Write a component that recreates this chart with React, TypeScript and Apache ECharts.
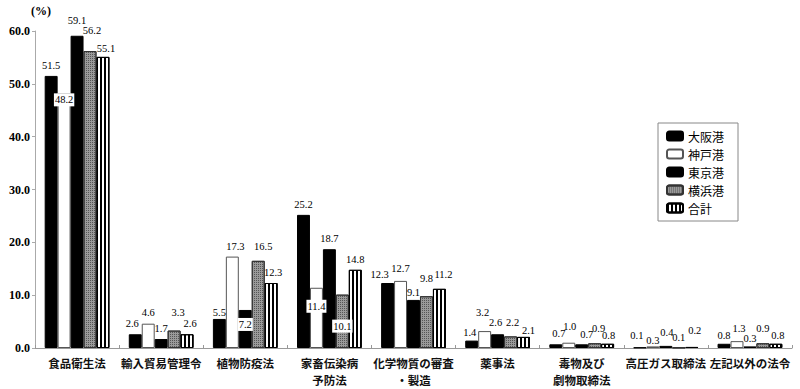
import React, { useEffect, useRef } from "react";
import * as echarts from "echarts";

const categories = [
  "食品衛生法",
  "輸入貿易管理令",
  "植物防疫法",
  "家畜伝染病\n予防法",
  "化学物質の審査\n・製造",
  "薬事法",
  "毒物及び\n劇物取締法",
  "高圧ガス取締法",
  "左記以外の法令",
];
const seriesNames = ["大阪港", "神戸港", "東京港", "横浜港", "合計"];
const osaka = [51.5, 2.6, 5.5, 25.2, 12.3, 1.4, 0.7, 0.1, 0.8];
const kobe = [48.2, 4.6, 17.3, 11.4, 12.7, 3.2, 1.0, 0.3, 1.3];
const tokyo = [59.1, 1.7, 7.2, 18.7, 9.1, 2.6, 0.7, 0.4, 0.3];
const yokohama = [56.2, 3.3, 16.5, 10.1, 9.8, 2.2, 0.9, 0.1, 0.9];
const total = [55.1, 2.6, 12.3, 14.8, 11.2, 2.1, 0.8, 0.2, 0.8];
const yTicks = [0, 10, 20, 30, 40, 50, 60];

// label placement tweaks (pixels) to mimic the hand-placed labels
const labelDy = [
  [0, 0, 4, 0, 2, 2, 0, -1, 2],
  [18, -1, 0, 30, -2, -8, -6, 5, -2],
  [-5, 0, 26, 0, 3, -1, 1, -3, 3],
  [-10, -8, -4, 43, -7, -3, -4, 1, -4],
  [2, 0, 0, 0, -4, 4, 2, -6, 2],
];
const labelDx = [
  [0, -3, 0, 0, -8, -2, 3, -3, 0],
  [0, 0, 3, 0, 0, -2, 1, 0, 2],
  [0, 0, 0, 0, 0, -2, 5, 1, 0],
  [2, 4, 5, 0, 0, 2, 4, 0, 0],
  [3, 3, 2, 0, 4, 5, 1, 3, 2],
];
const boxed: [number, number][] = [
  [1, 0],
  [2, 2],
  [1, 3],
  [3, 3],
];

export default function App() {
  const ref = useRef<HTMLDivElement>(null);
  useEffect(() => {
    document.body.style.margin = "0";
    if (!ref.current) return;
    const chart = echarts.init(ref.current, null, { renderer: "svg" });
    const allData = [osaka, kobe, tokyo, yokohama, total];
    const styles: any[] = [
      { color: "#000", borderColor: "#000", borderWidth: 1 },
      { color: "#fff", borderColor: "#555", borderWidth: 1 },
      { color: "#000", borderColor: "#000", borderWidth: 1 },
      {
        color: "#9a9a9a",
        borderColor: "#333",
        borderWidth: 1,
        decal: {
          symbol: "rect",
          symbolSize: 1,
          dashArrayX: [1, 1],
          dashArrayY: [1, 1],
          color: "#555",
          rotation: 0,
        },
      },
      {
        color: "#fff",
        borderColor: "#000",
        borderWidth: 1,
        decal: {
          symbol: "rect",
          symbolSize: 1,
          dashArrayX: [2, 1.5],
          dashArrayY: [4, 0],
          color: "#000",
          rotation: 0,
        },
      },
    ];
    const series = allData.map((vals, si) => ({
      name: seriesNames[si],
      type: "bar",
      barGap: "0%",
      barCategoryGap: "23%",
      itemStyle: styles[si],
      data: vals.map((v, ci) => {
        const isBoxed = boxed.some(([s, c]) => s === si && c === ci);
        return {
          value: v,
          label: {
            show: true,
            position: "top",
            distance: 5,
            offset: [labelDx[si][ci], labelDy[si][ci]],
            formatter: (p: any) => Number(p.value).toFixed(1),
            fontFamily: "Liberation Serif",
            fontSize: 10.5,
            color: "#000",
            backgroundColor: isBoxed ? "#fff" : "transparent",
            padding: isBoxed ? [1, 1] : 0,
          },
        };
      }),
    }));
    chart.setOption({
      animation: false,
      backgroundColor: "#fff",
      grid: { left: 35, right: 8, top: 31, bottom: 40 },
      graphic: [
        {
          type: "text",
          left: 31,
          top: 5,
          style: {
            text: "(%)",
            fontFamily: "Liberation Serif",
            fontSize: 12,
            fontWeight: "bold",
            fill: "#000",
          },
        },
      ],
      legend: {
        orient: "vertical",
        left: 658,
        top: 123,
        width: 80,
        itemWidth: 16,
        itemHeight: 9,
        itemGap: 6,
        padding: [7, 14, 7, 8],
        borderColor: "#888",
        borderWidth: 1,
        data: seriesNames,
        textStyle: {
          fontFamily: "Noto Sans CJK JP",
          fontSize: 12,
          color: "#000",
        },
      },
      xAxis: {
        type: "category",
        data: categories,
        axisLine: { lineStyle: { color: "#999", width: 1 } },
        axisTick: { show: true, inside: true, length: 3, lineStyle: { color: "#999" } },
        axisLabel: {
          interval: 0,
          margin: 6,
          fontFamily: "Noto Sans CJK JP",
          fontSize: 11.5,
          fontWeight: "bold",
          color: "#111",
          lineHeight: 17.5,
        },
      },
      yAxis: {
        type: "value",
        min: 0,
        max: 60,
        interval: 10,
        splitLine: { show: false },
        axisLine: { show: true, lineStyle: { color: "#aaa", width: 1 } },
        axisTick: { show: true, length: 3, lineStyle: { color: "#aaa" } },
        axisLabel: {
          margin: 5,
          fontFamily: "Liberation Serif",
          fontSize: 12,
          fontWeight: "bold",
          color: "#000",
          formatter: (v: number) => (yTicks.includes(v) ? v.toFixed(1) : ""),
        },
      },
      series,
    });
    return () => chart.dispose();
  }, []);
  return <div ref={ref} style={{ width: 800, height: 389 }} />;
}
